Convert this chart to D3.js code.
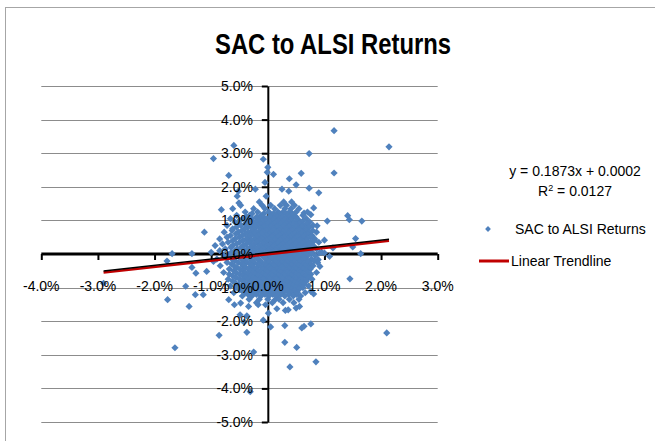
<!DOCTYPE html>
<html>
<head>
<meta charset="utf-8">
<script src="https://cdn.jsdelivr.net/npm/d3@7"></script>
<style>
  body { margin: 0; background: #fff; }
  text { font-family: "Liberation Sans", Arial, sans-serif; }
</style>
</head>
<body>
<div id="chart"></div>
<script>
// data (percent returns, ALSI on x, SAC on y)

var chartTitle = 'SAC to ALSI Returns';
var seriesName = 'SAC to ALSI Returns';
var trendName = 'Linear Trendline';
var trendSlope = 0.1873;
var trendIntercept = 0.0002;
var trendR2 = 0.0127;

var xTicks = [-4, -3, -2, -1, 0, 1, 2, 3];
var yTicks = [-5, -4, -3, -2, -1, 0, 1, 2, 3, 4, 5];

// scattered points away from the dense core
var outerPoints = [
    [1.17, 3.67], [2.14, 3.19], [-0.60, 3.23], [-0.96, 2.84], [-0.08, 2.82],
    [0.73, 2.99], [0.00, 2.58], [-0.01, 2.43], [0.10, 2.37], [-0.69, 2.34],
    [0.59, 2.40], [1.17, 2.41], [0.38, 2.24], [-0.05, 2.13], [0.50, 2.06],
    [0.73, 1.96], [0.90, 1.82], [-0.52, 1.87], [-0.22, 1.93], [0.25, 1.93],
    [0.37, 1.87], [-0.54, 1.72], [-0.03, 1.72], [-0.51, 1.52], [0.81, 1.37],
    [-0.82, 1.32], [0.64, 1.22], [0.76, 1.17], [1.41, 1.14], [1.44, 1.02],
    [1.66, 0.98], [1.05, 0.98], [0.87, 0.84], [-1.12, 0.65], [1.55, 0.46],
    [1.00, 0.41], [1.50, 0.21], [-1.69, 0.01], [-1.34, 0.01], [-1.78, -0.21],
    [1.64, 0.01], [1.15, 0.18], [1.09, -0.07], [-1.34, -0.40], [-1.27, -0.57],
    [-1.08, -0.52], [-0.96, -0.22], [1.45, -0.74], [-1.45, -0.96], [-1.14, -1.21],
    [-1.28, -1.21], [-1.77, -1.36], [-1.39, -1.56], [-0.69, -1.36], [-0.59, -1.51],
    [-0.48, -1.46], [-0.34, -1.56], [-0.17, -1.51], [-0.04, -1.51], [0.01, -1.76],
    [-0.08, -1.97], [-0.49, -1.81], [-0.37, -1.84], [-0.42, -2.03], [-0.37, -2.33],
    [-0.86, -2.42], [0.05, -2.17], [0.30, -2.13], [0.60, -2.20], [0.64, -2.15],
    [0.76, -2.08], [0.30, -2.63], [0.51, -2.78], [-0.25, -2.92], [-1.64, -2.79],
    [0.85, -3.21], [0.39, -3.36], [2.10, -2.35], [-0.31, -4.10], [-2.90, -0.87],
    [0.31, -1.68], [0.36, -1.66], [0.50, -1.61], [0.56, -1.56], [0.16, -1.63],
    [0.13, -1.36], [-0.49, -1.06], [-0.27, -1.16], [0.81, -1.19], [0.76, -1.11],
    [0.92, -0.37], [0.89, -0.17], [1.00, 0.03], [0.91, 0.03]
];

// dense core, read row by row: [sac, [alsi values...]]
var coreRows = [
    [1.55, [-0.15, 0.28, 0.42]],
    [1.45, [-0.48, -0.10, 0.05, 0.22, 0.33, 0.47]],
    [1.35, [-0.62, -0.25, -0.05, 0.12, 0.30, 0.41, 0.55]],
    [1.25, [-0.40, -0.18, 0.02, 0.18, 0.27, 0.38, 0.50, 0.70]],
    [1.20, [-0.28, -0.07, 0.10, 0.21, 0.32, 0.43]],
    [1.15, [-0.55, -0.32, -0.12, 0.06, 0.15, 0.24, 0.36, 0.45, 0.62]],
    [1.10, [-0.38, -0.20, -0.08, 0.04, 0.16, 0.26, 0.37, 0.50]],
    [1.05, [-0.66, -0.44, -0.28, -0.15, -0.02, 0.10, 0.20, 0.31, 0.42, 0.52, 0.68]],
    [1.00, [-0.50, -0.33, -0.16, -0.04, 0.08, 0.19, 0.30, 0.41, 0.53, 0.63]],
    [0.95, [-0.58, -0.36, -0.22, -0.10, 0.03, 0.14, 0.25, 0.35, 0.48, 0.58, 0.74]],
    [0.90, [-0.52, -0.40, -0.25, -0.12, 0.00, 0.12, 0.23, 0.34, 0.45, 0.56, 0.69]],
    [0.85, [-0.72, -0.47, -0.30, -0.18, -0.06, 0.07, 0.17, 0.29, 0.39, 0.50, 0.63, 0.80]],
    [0.80, [-0.55, -0.35, -0.22, -0.07, 0.05, 0.16, 0.27, 0.38, 0.50, 0.61, 0.73]],
    [0.75, [-0.62, -0.41, -0.26, -0.13, -0.01, 0.10, 0.22, 0.33, 0.44, 0.55, 0.67]],
    [0.70, [-0.63, -0.46, -0.28, -0.14, -0.02, 0.11, 0.21, 0.33, 0.44, 0.55, 0.66, 0.79]],
    [0.65, [-0.77, -0.52, -0.35, -0.20, -0.08, 0.05, 0.16, 0.27, 0.38, 0.49, 0.60, 0.72, 0.86]],
    [0.60, [-0.56, -0.40, -0.24, -0.11, 0.02, 0.14, 0.25, 0.36, 0.47, 0.59, 0.71]],
    [0.55, [-0.66, -0.45, -0.30, -0.16, -0.03, 0.09, 0.20, 0.31, 0.42, 0.53, 0.65, 0.78]],
    [0.50, [-0.72, -0.50, -0.34, -0.20, -0.06, 0.07, 0.18, 0.29, 0.40, 0.51, 0.63, 0.76]],
    [0.45, [-0.85, -0.58, -0.38, -0.24, -0.11, 0.02, 0.13, 0.24, 0.35, 0.46, 0.57, 0.69, 0.83]],
    [0.40, [-0.62, -0.44, -0.29, -0.15, -0.02, 0.12, 0.23, 0.34, 0.45, 0.56, 0.68, 0.82]],
    [0.35, [-0.70, -0.50, -0.33, -0.19, -0.06, 0.07, 0.18, 0.29, 0.40, 0.51, 0.62, 0.75, 0.90]],
    [0.30, [-0.80, -0.55, -0.38, -0.23, -0.09, 0.04, 0.16, 0.27, 0.38, 0.49, 0.61, 0.74]],
    [0.25, [-0.93, -0.62, -0.43, -0.27, -0.14, -0.01, 0.11, 0.22, 0.33, 0.44, 0.56, 0.67, 0.80]],
    [0.20, [-0.65, -0.47, -0.31, -0.17, -0.04, 0.09, 0.20, 0.31, 0.42, 0.54, 0.66, 0.79]],
    [0.15, [-0.75, -0.54, -0.36, -0.22, -0.09, 0.04, 0.15, 0.26, 0.37, 0.48, 0.60, 0.72, 0.86]],
    [0.10, [-0.85, -0.58, -0.40, -0.25, -0.12, 0.01, 0.14, 0.25, 0.36, 0.47, 0.58, 0.71]],
    [0.05, [-1.00, -0.64, -0.45, -0.30, -0.16, -0.03, 0.09, 0.20, 0.31, 0.42, 0.53, 0.65, 0.78, 0.95]],
    [0.00, [-0.68, -0.50, -0.34, -0.20, -0.06, 0.08, 0.19, 0.30, 0.41, 0.52, 0.64, 0.77]],
    [-0.05, [-0.78, -0.55, -0.38, -0.23, -0.10, 0.03, 0.14, 0.25, 0.36, 0.47, 0.58, 0.70, 0.84]],
    [-0.10, [-0.70, -0.48, -0.33, -0.20, -0.06, 0.07, 0.19, 0.30, 0.41, 0.52, 0.64]],
    [-0.15, [-0.90, -0.63, -0.46, -0.31, -0.17, -0.04, 0.08, 0.19, 0.30, 0.41, 0.52, 0.64, 0.77]],
    [-0.20, [-0.58, -0.41, -0.27, -0.14, 0.00, 0.13, 0.24, 0.35, 0.46, 0.58, 0.70, 0.82]],
    [-0.25, [-0.72, -0.52, -0.37, -0.24, -0.11, 0.02, 0.13, 0.24, 0.35, 0.46, 0.58, 0.71, 0.88]],
    [-0.30, [-0.64, -0.46, -0.31, -0.18, -0.05, 0.08, 0.19, 0.30, 0.41, 0.52, 0.63, 0.76]],
    [-0.35, [-0.84, -0.60, -0.43, -0.29, -0.16, -0.03, 0.09, 0.20, 0.31, 0.42, 0.54, 0.66, 0.80]],
    [-0.40, [-0.55, -0.39, -0.25, -0.11, 0.02, 0.13, 0.25, 0.36, 0.47, 0.59, 0.72]],
    [-0.45, [-0.68, -0.49, -0.34, -0.21, -0.08, 0.05, 0.16, 0.27, 0.38, 0.50, 0.62, 0.75]],
    [-0.50, [-0.60, -0.44, -0.30, -0.17, -0.03, 0.10, 0.21, 0.33, 0.44, 0.56, 0.68]],
    [-0.55, [-0.78, -0.56, -0.40, -0.26, -0.13, 0.00, 0.11, 0.22, 0.34, 0.45, 0.57, 0.70, 0.86]],
    [-0.60, [-0.68, -0.50, -0.35, -0.22, -0.08, 0.05, 0.16, 0.28, 0.39, 0.50, 0.62, 0.76]],
    [-0.65, [-0.62, -0.44, -0.30, -0.17, -0.04, 0.08, 0.19, 0.30, 0.42, 0.54, 0.67]],
    [-0.70, [-0.56, -0.40, -0.26, -0.12, 0.01, 0.13, 0.24, 0.36, 0.48, 0.60, 0.72]],
    [-0.75, [-0.70, -0.50, -0.35, -0.22, -0.09, 0.03, 0.14, 0.26, 0.37, 0.49, 0.61, 0.78]],
    [-0.80, [-0.62, -0.45, -0.30, -0.16, -0.03, 0.09, 0.20, 0.32, 0.43, 0.55, 0.68]],
    [-0.85, [-0.58, -0.41, -0.27, -0.13, 0.00, 0.11, 0.23, 0.35, 0.47, 0.60]],
    [-0.90, [-0.52, -0.36, -0.22, -0.09, 0.04, 0.16, 0.28, 0.40, 0.52, 0.64]],
    [-0.95, [-0.66, -0.46, -0.31, -0.18, -0.05, 0.07, 0.19, 0.31, 0.44, 0.57, 0.72]],
    [-1.00, [-0.56, -0.40, -0.26, -0.13, 0.00, 0.12, 0.24, 0.36, 0.49, 0.62]],
    [-1.05, [-0.50, -0.35, -0.21, -0.08, 0.05, 0.17, 0.29, 0.42, 0.55]],
    [-1.10, [-0.45, -0.30, -0.16, -0.03, 0.10, 0.22, 0.35, 0.47]],
    [-1.15, [-0.60, -0.40, -0.24, -0.10, 0.03, 0.15, 0.27, 0.40, 0.52, 0.66]],
    [-1.20, [-0.35, -0.20, -0.05, 0.09, 0.23, 0.37, 0.51]],
    [-1.25, [-0.45, -0.28, -0.12, 0.02, 0.16, 0.30, 0.45, 0.58]],
    [-1.35, [-0.33, -0.15, 0.00, 0.20, 0.38, 0.55]],
    [-1.45, [-0.20, 0.08, 0.27, 0.46]]
];

var points = outerPoints.slice();
coreRows.forEach(function(row){
    row[1].forEach(function(x){
        points.push([x, row[0]]);
    });
});

// chart dimensions
var width = 655;
var height = 441;
var plot = { left: 41.3, right: 437.7, top: 86, bottom: 422 };

var svg = d3.select('#chart')
    .append('svg')
    .attr('width', width)
    .attr('height', height);

// chart area border
svg.append('rect')
    .attr('x', 5.5)
    .attr('y', 7.5)
    .attr('width', 720)
    .attr('height', 500)
    .attr('fill', 'none')
    .attr('stroke', '#a6a6a6');

// title
svg.append('text')
    .attr('x', 333)
    .attr('y', 54)
    .attr('text-anchor', 'middle')
    .attr('font-size', 29)
    .attr('font-weight', 'bold')
    .attr('textLength', 236)
    .attr('lengthAdjust', 'spacingAndGlyphs')
    .text(chartTitle);

// scales
var x_scale = d3.scaleLinear().domain([-4, 3]).range([plot.left, plot.right]);
var y_scale = d3.scaleLinear().domain([-5, 5]).range([plot.bottom, plot.top]);

// gridlines
svg.append('g')
    .selectAll('line')
    .data(yTicks)
    .enter()
    .append('line')
    .attr('x1', plot.left)
    .attr('x2', plot.right)
    .attr('y1', function(d){ return Math.round(y_scale(d)) + 0.5; })
    .attr('y2', function(d){ return Math.round(y_scale(d)) + 0.5; })
    .attr('stroke', '#8c8c8c')
    .attr('stroke-width', 1);

// axes (lines and tick marks)
var x_axis = d3.axisBottom(x_scale)
    .tickValues(xTicks)
    .tickSize(6)
    .tickFormat('');
var y_axis = d3.axisLeft(y_scale)
    .tickValues(yTicks)
    .tickSize(6)
    .tickSizeOuter(0)
    .tickFormat('');

var xg = svg.append('g')
    .attr('transform', 'translate(0,' + y_scale(0) + ')')
    .call(x_axis);
xg.select('.domain').attr('stroke', '#000').attr('stroke-width', 3)
    .attr('d', 'M' + plot.left + ',0H' + plot.right);
xg.selectAll('.tick line').attr('stroke', '#000').attr('stroke-width', 2);

var yg = svg.append('g')
    .attr('transform', 'translate(' + x_scale(0) + ',0)')
    .call(y_axis);
yg.select('.domain').attr('stroke', '#000').attr('stroke-width', 2);
yg.selectAll('.tick line').attr('stroke', '#000').attr('stroke-width', 2);

// points
var diamond = 'M0,-3.6L3.6,0L0,3.6L-3.6,0Z';
svg.append('g')
    .selectAll('path')
    .data(points)
    .enter()
    .append('path')
    .attr('d', diamond)
    .attr('transform', function(d){
        return 'translate(' + x_scale(d[0]) + ',' + y_scale(d[1]) + ')';
    })
    .attr('fill', '#4f81bd');

// trendline over the data range
var xMin = d3.min(points, function(d){ return d[0]; });
var xMax = d3.max(points, function(d){ return d[0]; });
var trendData = [xMin, xMax].map(function(x){
    return [x, trendSlope * x + trendIntercept * 100];
});
var line = d3.line()
    .x(function(d){ return x_scale(d[0]); })
    .y(function(d){ return y_scale(d[1]); });

svg.append('path')
    .datum(trendData)
    .attr('d', line)
    .attr('transform', 'translate(0,1)')
    .attr('fill', 'none')
    .attr('stroke', '#c00000')
    .attr('stroke-width', 2.5);
svg.append('path')
    .datum(trendData)
    .attr('d', line)
    .attr('transform', 'translate(0,-0.6)')
    .attr('fill', 'none')
    .attr('stroke', '#000')
    .attr('stroke-width', 1.3);

// tick labels
svg.append('g')
    .selectAll('text')
    .data(xTicks)
    .enter()
    .append('text')
    .attr('x', function(d){ return x_scale(d); })
    .attr('y', 291)
    .attr('text-anchor', 'middle')
    .attr('font-size', 14)
    .text(function(d){ return d.toFixed(1) + '%'; });

svg.append('g')
    .selectAll('text')
    .data(yTicks)
    .enter()
    .append('text')
    .attr('x', 253)
    .attr('y', function(d){ return y_scale(d); })
    .attr('dy', '0.36em')
    .attr('text-anchor', 'end')
    .attr('font-size', 14)
    .text(function(d){ return d.toFixed(1) + '%'; });

// legend / equation
svg.append('text')
    .attr('x', 575)
    .attr('y', 176)
    .attr('text-anchor', 'middle')
    .attr('font-size', 14)
    .text('y = ' + trendSlope + 'x + ' + trendIntercept.toFixed(4));

var r2 = svg.append('text')
    .attr('x', 575)
    .attr('y', 196)
    .attr('text-anchor', 'middle')
    .attr('font-size', 14);
r2.append('tspan').text('R');
r2.append('tspan').attr('dy', -5).attr('font-size', 9).text('2');
r2.append('tspan').attr('dy', 5).text(' = ' + trendR2.toFixed(4));

svg.append('path')
    .attr('d', diamond)
    .attr('transform', 'translate(488,229) scale(0.8)')
    .attr('fill', '#4f81bd');
svg.append('text')
    .attr('x', 515)
    .attr('y', 234)
    .attr('font-size', 14)
    .text(seriesName);

svg.append('line')
    .attr('x1', 479)
    .attr('x2', 509)
    .attr('y1', 261)
    .attr('y2', 261)
    .attr('stroke', '#c00000')
    .attr('stroke-width', 3);
svg.append('text')
    .attr('x', 511)
    .attr('y', 266)
    .attr('font-size', 14)
    .text(trendName);
</script>
</body>
</html>
